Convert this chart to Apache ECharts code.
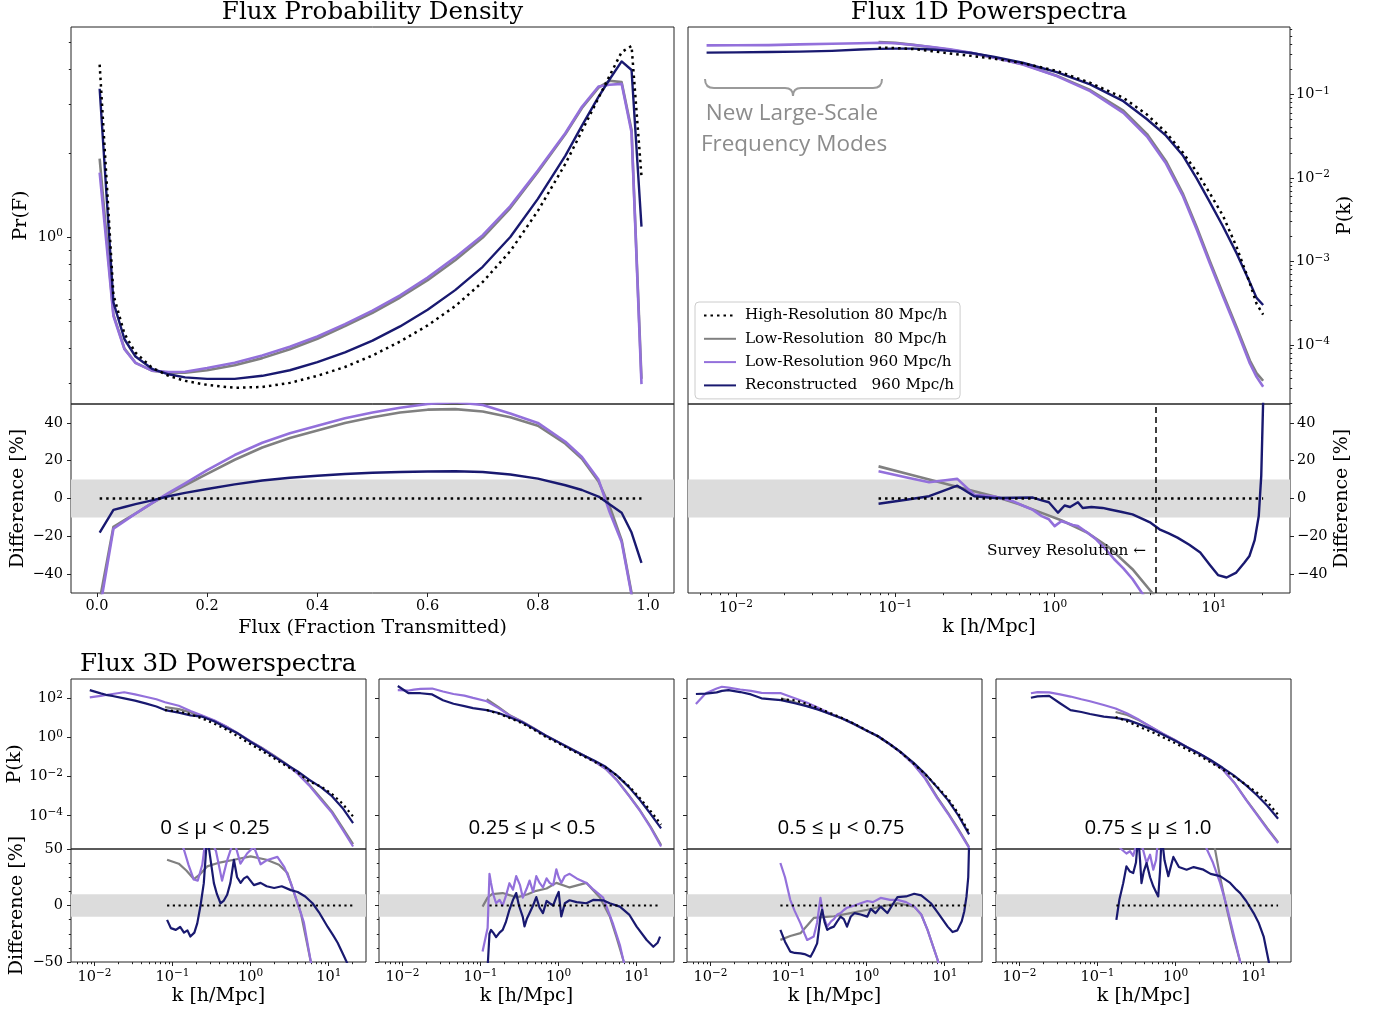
<!DOCTYPE html>
<html><head><meta charset="utf-8">
<script src="https://cdn.jsdelivr.net/npm/echarts@6/dist/echarts.min.js"></script>
<style>html,body{margin:0;padding:0;background:#fff}#c{width:1385px;height:1013px}</style>
</head><body><div id="c"></div>
<script>
// ---------------- DATA ----------------
const N_HIGH = 'High-Resolution 80 Mpc/h';
const N_LOW80 = 'Low-Resolution  80 Mpc/h';
const N_LOW960 = 'Low-Resolution 960 Mpc/h';
const N_RECON = 'Reconstructed   960 Mpc/h';

// Flux probability density
const fluxF = [0.005, 0.03, 0.05, 0.07, 0.10, 0.13, 0.16, 0.20, 0.25, 0.30, 0.35, 0.40, 0.45, 0.50, 0.55, 0.60, 0.65, 0.70, 0.75, 0.80, 0.85, 0.88, 0.91, 0.93, 0.952, 0.97, 0.988];
const pdfHigh80 = [4.15, 0.62, 0.45, 0.385, 0.34, 0.318, 0.305, 0.295, 0.288, 0.29, 0.30, 0.318, 0.342, 0.376, 0.422, 0.482, 0.565, 0.69, 0.89, 1.24, 1.83, 2.40, 3.15, 3.78, 4.60, 4.84, 1.65];
const pdfLow80 = [1.91, 0.527, 0.398, 0.354, 0.332, 0.326, 0.326, 0.333, 0.347, 0.368, 0.396, 0.432, 0.479, 0.535, 0.607, 0.700, 0.825, 0.995, 1.27, 1.71, 2.34, 2.90, 3.43, 3.63, 3.59, 2.42, 0.31];
const pdfLow960 = [1.70, 0.521, 0.396, 0.354, 0.332, 0.328, 0.329, 0.339, 0.354, 0.376, 0.404, 0.440, 0.487, 0.545, 0.618, 0.715, 0.845, 1.015, 1.29, 1.73, 2.36, 2.93, 3.465, 3.515, 3.54, 2.37, 0.297];
const pdfRecon = [3.40, 0.583, 0.43, 0.373, 0.337, 0.322, 0.314, 0.31, 0.31, 0.318, 0.333, 0.356, 0.386, 0.425, 0.478, 0.549, 0.645, 0.782, 1.0, 1.37, 1.958, 2.508, 3.18, 3.67, 4.26, 3.97, 1.09];
const pdfDiffHigh80 = [0, 0, 0, 0, 0, 0, 0, 0, 0, 0, 0, 0, 0, 0, 0, 0, 0, 0, 0, 0, 0, 0, 0, 0, 0, 0, 0];
const pdfDiffLow80 = [-54, -15, -11.5, -8, -2.5, 2.5, 7, 13, 20.5, 27, 32, 36, 40, 43, 45.5, 47, 47.3, 46, 43, 38.5, 29, 21, 9, -4, -22, -50, -81];
const pdfDiffLow960 = [-59, -16, -12, -8, -2.5, 3, 8, 15, 23, 29.5, 34.5, 38.5, 42.5, 45.5, 48, 50, 51, 49.5, 45, 40, 30, 22, 10, -7, -23, -51, -82];
const pdfDiffRecon = [-18, -6, -4.5, -3, -1, 1.2, 3, 5, 7.5, 9.5, 11, 12, 13, 13.6, 14, 14.3, 14.4, 14, 12.7, 10.5, 7, 4.5, 1, -3, -7.5, -18, -34];
const pdfXTicks = [0, 0.2, 0.4, 0.6, 0.8, 1.0];
const diffTicks = [-40, -20, 0, 20, 40];

// Flux 1D power spectra
const k1D = [0.00654, 0.01, 0.016, 0.025, 0.04, 0.06, 0.0785, 0.1, 0.13, 0.17, 0.22, 0.3, 0.42, 0.63, 1.03, 1.67, 2.7, 3.8, 5.0, 6.4, 7.8, 9.4, 11.4, 13.9, 16.8, 18.5, 20.35];
const p1dHigh80 = [null, null, null, null, null, null, 0.364, 0.36, 0.35, 0.33, 0.31, 0.29, 0.268, 0.237, 0.192, 0.138, 0.0913, 0.0575, 0.035, 0.02, 0.0118, 0.00658, 0.00352, 0.00147, 5.47e-4, 3.12e-4, 2.3e-4];
const p1dLow80 = [null, null, null, null, null, null, 0.425, 0.415, 0.393, 0.368, 0.342, 0.313, 0.276, 0.231, 0.168, 0.113, 0.064, 0.0335, 0.0159, 0.0064, 0.00256, 1.02e-3, 4.07e-4, 1.62e-4, 6.5e-5, 4.6e-5, 3.72e-5];
const p1dLow960 = [0.387, 0.388, 0.39, 0.398, 0.405, 0.41, 0.416, 0.41, 0.392, 0.37, 0.347, 0.315, 0.276, 0.229, 0.166, 0.1096, 0.0603, 0.0313, 0.01486, 0.00601, 0.00239, 9.54e-4, 3.8e-4, 1.51e-4, 6.0e-5, 4.15e-5, 3.15e-5];
const p1dRecon = [0.317, 0.319, 0.322, 0.326, 0.333, 0.345, 0.352, 0.354, 0.354, 0.345, 0.333, 0.315, 0.282, 0.24, 0.185, 0.132, 0.0831, 0.0505, 0.0321, 0.0184, 0.0098, 0.00517, 0.00262, 0.00124, 5.6e-4, 3.66e-4, 3.01e-4];
const k1DZero = [0.0785, 20.35];
const d1DHigh80 = [0, 0];
const k1DDiffLow80 = [0.0785, 0.12, 0.163, 0.25, 0.42, 0.6, 0.83, 1.1, 1.6, 2.2, 3.08, 4.1, 5.0];
const d1DLow80 = [17, 13, 10, 6, 1, -3, -7.6, -11.5, -18, -26, -37.4, -50, -62];
const k1DDiffLow960 = [0.0785, 0.12, 0.163, 0.2, 0.245, 0.313, 0.42, 0.55, 0.64, 0.73, 0.83, 0.92, 1.0, 1.1, 1.155, 1.3, 1.4, 1.6, 1.82, 2.1, 2.36, 2.7, 3.08, 3.6, 4.5];
const d1DLow960 = [14.4, 11, 8.6, 9.5, 10.4, 2, 1, -1.5, -4, -6, -9.3, -11, -14.6, -12, -12.5, -14, -14.6, -18, -21.6, -27, -32, -37, -42.6, -51, -65];
const k1DDiffRecon = [0.0785, 0.12, 0.163, 0.2, 0.245, 0.313, 0.42, 0.55, 0.73, 0.83, 0.92, 1.05, 1.155, 1.25, 1.4, 1.5, 1.7, 2.0, 2.22, 2.6, 3.08, 3.5, 4.0, 4.55, 5.2, 5.9, 7.0, 8.2, 9.4, 10.6, 12, 13.8, 15.5, 16.7, 18, 19.1, 19.8, 20.4];
const d1DRecon = [-2.8, -0.5, 1.2, 4, 6.8, 1.2, 0.3, 0.4, 0.5, -1, -2, -7.5, -3.7, -4.5, -2, -5, -4.5, -5, -5.8, -7, -8.4, -10.5, -12.8, -16.3, -18.5, -20.7, -24.5, -28.6, -35, -40.5, -41.8, -39.2, -34, -30.4, -22, -9.3, 12, 55];
const surveyResolutionK = 4.3;
const kTickLabels = [0.01, 0.1, 1, 10];
const p1dYTicks = [1e-4, 1e-3, 1e-2, 1e-1];

// Flux 3D power spectra (4 mu bins)
const muLabels = ['0 \u2264 \u03bc < 0.25', '0.25 \u2264 \u03bc < 0.5', '0.5 \u2264 \u03bc < 0.75', '0.75 \u2264 \u03bc \u2264 1.0'];
const k3D = [0.0065, 0.0087, 0.012, 0.014, 0.017, 0.024, 0.033, 0.045, 0.062, 0.08, 0.12, 0.17, 0.24, 0.34, 0.48, 0.68, 1.0, 1.4, 2.0, 2.8, 4.0, 5.6, 8.0, 11, 15, 20.5];
const p3dRecon_1 = [null, 263, 178, 151, 132, 100, 75.9, 55.0, 38.0, 25.1, 18.6, 13.5, 11.5, 6.76, 3.24, 1.62, 0.589, 0.263, 0.105, 0.0447, 0.0186, 0.00692, 0.00282, 0.001, 2.51e-4, 4.17e-5];
const p3dLow960_1 = [null, 112, 132, 148, 166, 204, 158, 120, 89.1, 63.1, 41.7, 22.4, 13.2, 7.59, 3.8, 1.66, 0.631, 0.282, 0.112, 0.0447, 0.0141, 0.00355, 6.31e-4, 1.41e-4, 2.0e-5, 2.69e-6];
const p3dLow80_1 = [null, null, null, null, null, null, null, null, null, 35.5, 28.2, 19.1, 12.0, 7.08, 3.72, 1.66, 0.631, 0.288, 0.117, 0.0468, 0.0151, 0.00398, 7.59e-4, 1.66e-4, 2.51e-5, 3.55e-6];
const p3dHigh80_1 = [null, null, null, null, null, null, null, null, null, 25.1, 21.4, 15.1, 9.33, 5.13, 2.63, 1.17, 0.447, 0.204, 0.0851, 0.0363, 0.0158, 0.00562, 0.00309, 0.00129, 4.17e-4, 9.12e-5];
const p3dRecon_2 = [null, 427, 182, 182, 182, 158, 79.4, 52.5, 39.8, 31.6, 25.1, 17.8, 10.5, 6.03, 2.82, 1.26, 0.562, 0.275, 0.132, 0.0692, 0.0316, 0.0112, 0.00282, 6.31e-4, 1.26e-4, 2.24e-5];
const p3dLow960_2 = [null, 263, 251, 280, 302, 316, 224, 166, 138, 105, 70.8, 31.6, 12.6, 6.31, 2.88, 1.26, 0.562, 0.275, 0.132, 0.0631, 0.0251, 0.00631, 0.001, 1.78e-4, 2.51e-5, 2.69e-6];
const p3dLow80_2 = [null, null, null, null, null, null, null, null, null, null, 90, 35.5, 13.2, 6.61, 2.95, 1.26, 0.575, 0.282, 0.135, 0.0631, 0.0251, 0.0066, 0.00105, 1.91e-4, 2.82e-5, 3.16e-6];
const p3dHigh80_2 = [null, null, null, null, null, null, null, null, null, null, 25.1, 16.6, 9.5, 5.3, 2.5, 1.08, 0.5, 0.245, 0.118, 0.0603, 0.029, 0.0112, 0.00316, 7.94e-4, 1.78e-4, 3.55e-5];
const p3dRecon_3 = [166, 174, 200, 240, 263, 209, 158, 100, 89.1, 81.3, 56.2, 39.8, 26.3, 15.8, 9.55, 5.01, 2.24, 1.15, 0.447, 0.166, 0.0501, 0.0141, 0.00282, 6.31e-4, 1.0e-4, 1.12e-5];
const p3dLow960_3 = [51.3, 182, 316, 389, 355, 282, 240, 191, 186, 182, 100, 60.3, 33.1, 16.6, 9.55, 5.01, 2.24, 1.15, 0.437, 0.158, 0.0417, 0.00794, 7.94e-4, 1.26e-4, 1.78e-5, 2.24e-6];
const p3dLow80_3 = [null, null, null, null, null, null, null, null, null, 100, 63.1, 41.7, 28.2, 15.8, 9.33, 4.9, 2.19, 1.12, 0.437, 0.162, 0.0437, 0.00891, 8.91e-4, 1.41e-4, 2.0e-5, 2.51e-6];
const p3dHigh80_3 = [null, null, null, null, null, null, null, null, null, 89.1, 79.4, 52.5, 31.6, 17.8, 10, 5.25, 2.29, 1.15, 0.437, 0.158, 0.0457, 0.0135, 0.00302, 7.59e-4, 1.26e-4, 1.41e-5];
const p3dRecon_4 = [null, null, null, 107, 126, 132, 56, 25.1, 20, 15.8, 11.5, 10, 7.94, 4.79, 2.75, 1.41, 0.661, 0.316, 0.151, 0.0708, 0.0282, 0.0112, 0.00355, 0.00112, 3.16e-4, 7.08e-5];
const p3dLow960_4 = [null, null, null, 182, 209, 200, 158, 123, 89.1, 70.8, 45.7, 30.2, 16.6, 7.94, 3.55, 1.58, 0.708, 0.316, 0.151, 0.0661, 0.024, 0.00501, 6.31e-4, 1.12e-4, 2.0e-5, 3.98e-6];
const p3dLow80_4 = [null, null, null, null, null, null, null, null, null, null, null, 20, 14.1, 7.59, 3.47, 1.55, 0.692, 0.316, 0.148, 0.0631, 0.0234, 0.00501, 6.61e-4, 1.2e-4, 2.24e-5, 4.47e-6];
const p3dHigh80_4 = [null, null, null, null, null, null, null, null, null, null, null, 11.2, 6.61, 3.55, 2.0, 1.05, 0.501, 0.24, 0.12, 0.0537, 0.0229, 0.01, 0.0038, 0.00151, 5.01e-4, 1.12e-4];
const p3dYTicks = [1e-4, 1e-2, 1, 100];

// 3D differences [%]
const k3Zero_1 = [0.085, 20.3];
const d3Zero_1 = [0, 0];
const k3Low80_1 = [0.085, 0.12, 0.15, 0.187, 0.22, 0.277, 0.4, 0.61, 1.0, 1.6, 2.3, 2.96, 3.6, 4.39, 5.9, 7.0];
const d3Low80_1 = [40.5, 37, 31, 23.4, 27, 34.6, 38, 40.5, 43.5, 40.5, 36, 28.7, 11, -6.7, -50, -65];
const k3Low960_1 = [0.085, 0.11, 0.139, 0.16, 0.187, 0.21, 0.24, 0.26, 0.3, 0.36, 0.43, 0.5, 0.61, 0.74, 0.9, 1.1, 1.34, 1.6, 2.2, 2.7, 3.27, 4.0, 4.8, 5.9, 7.0];
const d3Low960_1 = [75, 62, 50, 36, 23, 22, 36, 55, 60, 48, 22, 40, 58, 37, 46, 52, 36.5, 40, 43, 34, 20, 2, -15, -50, -65];
const k3Recon_1 = [0.085, 0.095, 0.11, 0.125, 0.14, 0.155, 0.169, 0.19, 0.207, 0.228, 0.251, 0.277, 0.3, 0.338, 0.37, 0.411, 0.45, 0.5, 0.55, 0.61, 0.67, 0.744, 0.82, 0.906, 1.1, 1.34, 1.6, 2.0, 2.5, 3.27, 4.0, 5.0, 6.2, 7.5, 9.7, 11.3, 13, 15, 17.5];
const d3Recon_1 = [-12.7, -20, -21.6, -19, -24, -22, -27.5, -24, -15.8, 0, 19.8, 62, 45, 19.8, 10, 2, 4, 9.5, 20, 40.5, 25, 20, 24, 25.6, 18, 20, 17, 15.5, 17, 13.6, 12, 8, 2, -6, -19, -26, -33, -42, -52];

const k3Zero_2 = [0.13, 19.9];
const d3Zero_2 = [0, 0];
const k3Low80_2 = [0.106, 0.123, 0.14, 0.192, 0.24, 0.286, 0.4, 0.517, 0.7, 0.934, 1.38, 2.27, 3.37, 4.52, 5.5, 6.71, 7.5];
const d3Low80_2 = [-1, 7, 10, 11, 9, 7, 10, 13, 15, 20, 16, 20, 7, -9.7, -28, -48, -60];
const k3Low960_2 = [0.106, 0.123, 0.13, 0.136, 0.145, 0.158, 0.175, 0.192, 0.21, 0.234, 0.26, 0.286, 0.32, 0.347, 0.39, 0.424, 0.47, 0.517, 0.57, 0.629, 0.7, 0.766, 0.85, 0.934, 1.0, 1.08, 1.2, 1.38, 1.7, 2.27, 2.8, 3.71, 4.99, 6.08, 6.71, 7.5];
const d3Low960_2 = [-40.8, -20, 28, 20, 10, 2, 5, 0, 8, 19.7, 14, 26, 18, 7, 15, 22, 12, 26, 20, 16, 24, 20, 18, 32, 25, 20, 26, 28, 24, 20, 14, 7, -16.6, -35, -48, -60];
const k3Recon_2 = [0.123, 0.13, 0.136, 0.145, 0.158, 0.175, 0.192, 0.21, 0.234, 0.26, 0.286, 0.31, 0.347, 0.365, 0.39, 0.424, 0.47, 0.517, 0.57, 0.629, 0.7, 0.766, 0.85, 0.934, 1.0, 1.08, 1.2, 1.38, 1.7, 2.27, 2.8, 3.71, 4.5, 6.08, 8.0, 9.97, 13.4, 16.3, 18.5, 19.9];
const d3Recon_2 = [-55, -25, -21.6, -24, -28, -24, -21.6, -15, -3.8, 5, 11, 0, -10, -18.5, -12, -6.7, 0, 7.4, -2, -6.7, 4, 2, 0, 7.4, 12, -9.7, 2, 4.6, 3, 2, 5, 4.6, 2, -1, -8, -18.7, -30.5, -36.5, -33, -27.5];

const k3Zero_3 = [0.0785, 20.6];
const d3Zero_3 = [0, 0];
const k3Low80_3 = [0.0785, 0.105, 0.142, 0.21, 0.3, 0.38, 0.623, 1.02, 1.51, 2.48, 4.06, 5.0, 6.02, 7.0, 8.1, 9.0];
const d3Low80_3 = [-30.4, -27, -24.5, -11, -10, -9.5, -6.7, -3.8, -1, 2, -1, -8, -21.6, -35, -48, -60];
const k3Low960_3 = [0.0785, 0.09, 0.105, 0.12, 0.142, 0.16, 0.173, 0.191, 0.21, 0.232, 0.256, 0.28, 0.313, 0.35, 0.38, 0.42, 0.463, 0.51, 0.56, 0.623, 0.7, 0.837, 1.02, 1.2, 1.51, 2.0, 2.48, 3.2, 4.06, 5.0, 6.02, 7.0, 8.1, 9.0];
const d3Low960_3 = [37.6, 25, 5, -5, -15.8, -25, -30.5, -29, -27.5, -15, 6.7, -10, -18.6, -14, -12, -8, -6.7, -4, -2, -1, 0, 2, 4, 3, 6.7, 5, 5, 3, -1, -8, -21.6, -35, -48, -60];
const k3Recon_3 = [0.0785, 0.09, 0.105, 0.12, 0.142, 0.16, 0.173, 0.191, 0.21, 0.232, 0.256, 0.269, 0.29, 0.313, 0.34, 0.38, 0.42, 0.463, 0.51, 0.56, 0.623, 0.7, 0.837, 1.02, 1.13, 1.3, 1.51, 1.84, 2.2, 2.48, 3.2, 4.06, 5.0, 6.65, 8.1, 10.9, 12.6, 14.5, 16.5, 17.8, 19.0, 20.0, 20.6];
const d3Recon_3 = [-21.6, -32, -40.8, -42, -42.3, -43, -44, -45.3, -40, -33.5, -10, -3.8, -15, -21.6, -20, -18.7, -14, -9.8, -12, -18.7, -10, -6.7, -8, -9.8, -3, -6.7, -1, -6.7, 2, 7.4, 8, 10.4, 9, 2, -6, -18.7, -23.5, -22, -14, -5, 8, 25, 60];

const k3Zero_4 = [0.174, 20.5];
const d3Zero_4 = [0, 0];
const k3Low80_4 = [0.174, 0.5, 1.0, 2.0, 3.0, 3.71, 4.52, 5.5, 6.71, 8.0];
const d3Low80_4 = [70, 80, 85, 80, 60, 25, -3, -28, -50, -70];
const k3Low960_4 = [0.174, 0.2, 0.234, 0.26, 0.286, 0.331, 0.38, 0.424, 0.47, 0.517, 0.56, 0.598, 0.66, 0.8, 1.0, 1.4, 2.0, 2.5, 3.0, 3.71, 4.52, 5.5, 6.71, 8.0];
const d3Low960_4 = [55, 50, 46, 48, 44, 60, 50, 37.6, 45, 31.7, 40, 60, 70, 80, 75, 80, 70, 50, 38, 20, -1, -25, -50, -70];
const k3Recon_4 = [0.174, 0.19, 0.213, 0.234, 0.26, 0.286, 0.31, 0.331, 0.35, 0.365, 0.39, 0.424, 0.47, 0.517, 0.56, 0.598, 0.63, 0.661, 0.72, 0.805, 0.87, 0.934, 1.1, 1.38, 1.7, 2.27, 2.8, 3.71, 4.99, 6.0, 6.71, 8.0, 9.97, 11.5, 13.4, 15.6, 17];
const d3Recon_4 = [-12.7, 5, 19.8, 34.6, 30, 28.7, 38, 62, 40, 19.8, 30, 37.6, 25, 17, 12, 8, 30, 62, 40, 26, 35, 43, 34, 31.7, 34, 31.7, 28, 26, 20, 14, 11, 4, -6.7, -15, -27.5, -50, -65];

// ---------------- BUILD ----------------
const FONT = '"DejaVu Serif", serif';
const SANS = '"Open Sans", sans-serif';
const TXT = '#000';
const STY = {
  high: {color: '#000000', width: 2.5, z: 5},
  low80: {color: '#808080', width: 2.6, z: 2},
  low960: {color: '#9370db', width: 2.6, z: 3},
  recon: {color: '#191970', width: 2.4, z: 4}
};

function pairs(xs, ys) { const out = []; for (let i = 0; i < xs.length; i++) if (ys[i] != null) out.push([xs[i], ys[i]]); return out; }
function minorLog(min, max) {
  const out = [];
  for (let e = Math.floor(Math.log10(min)); e <= Math.ceil(Math.log10(max)); e++) {
    for (let m = 2; m <= 9; m++) { const v = m * Math.pow(10, e); if (v > min && v < max) out.push(v); }
  }
  return out;
}
function supLabel(v) { const e = Math.round(Math.log10(v)); return '{b|10}{s|' + (e < 0 ? '\u2212' + (-e) : e) + '}'; }
const supRich = {
  b: {fontFamily: FONT, fontSize: 14.5, color: TXT, lineHeight: 18},
  s: {fontFamily: FONT, fontSize: 10.5, color: TXT, lineHeight: 8, verticalAlign: 'top'}
};
function minusFmt(v) { return v < 0 ? '\u2212' + Math.abs(v) : String(v); }
const nameTS = {fontFamily: FONT, fontSize: 19, color: TXT};
const tickLS = {color: '#222', width: 1};
const LBL = {fontFamily: FONT, fontSize: 14.5, color: TXT};

const grid = [], xAxis = [], yAxis = [], series = [];
function G(left, top, width, height) {
  grid.push({left, top, width, height, show: true, borderColor: '#222', borderWidth: 1, backgroundColor: 'transparent', containLabel: false, outerBoundsMode: 'none'});
  return grid.length - 1;
}
function A(list, o) {
  list.push(Object.assign({splitLine: {show: false}, axisLine: {show: false, onZero: false}, axisPointer: {show: false}, nameMoveOverlap: false, silent: true}, o));
  return list.length - 1;
}
function logAx(gi, pos, min, max, ticks, labels, margin, extra) {
  return Object.assign({type: 'log', logBase: 10, gridIndex: gi, position: pos, min, max,
    axisTick: ticks ? {show: true, length: 4, customValues: ticks, lineStyle: tickLS} : {show: false},
    axisLabel: labels ? {show: true, customValues: ticks, formatter: supLabel, rich: supRich, margin: margin} : {show: false}
  }, extra || {});
}
function minorAx(gi, pos, min, max) {
  return {type: 'log', logBase: 10, gridIndex: gi, position: pos, min, max, offset: 0,
    axisTick: {show: true, length: 2.2, customValues: minorLog(min, max), lineStyle: tickLS}, axisLabel: {show: false}};
}
function L(kind, name, xi, yi, data, w) {
  const s = STY[kind];
  const width = w || s.width;
  const dash = kind === 'high' ? [width, width * 1.6] : 'solid';
  return {type: 'line', name, xAxisIndex: xi, yAxisIndex: yi, data, symbol: 'none', showSymbol: false, silent: true,
    z: s.z, clip: true, animation: false, emphasis: {disabled: true},
    lineStyle: {color: s.color, width, type: dash, cap: 'butt', join: 'round'}, itemStyle: {color: s.color}};
}
function band(xi, yi, extra) {
  return Object.assign({type: 'line', name: '_band', xAxisIndex: xi, yAxisIndex: yi, data: [], symbol: 'none', silent: true, z: 1, animation: false,
    markArea: {silent: true, itemStyle: {color: '#dcdcdc', opacity: 1}, label: {show: false}, data: [[{yAxis: -10}, {yAxis: 10}]]}}, extra || {});
}

// ---- Top-left: Flux probability density ----
const gTLu = G(71, 27, 603, 377), gTLd = G(71, 404, 603, 189);
const xTLu = A(xAxis, {type: 'value', gridIndex: gTLu, position: 'bottom', min: -0.047, max: 1.047, axisTick: {show: false}, axisLabel: {show: false}});
const yTLu = A(yAxis, logAx(gTLu, 'left', 0.252, 5.66, [1], true, 8, {name: 'Pr(F)', nameLocation: 'middle', nameGap: 40, nameRotate: 90, nameTextStyle: nameTS}));
A(yAxis, minorAx(gTLu, 'left', 0.252, 5.66));
const xTLd = A(xAxis, {type: 'value', gridIndex: gTLd, position: 'bottom', min: -0.047, max: 1.047,
  axisTick: {show: true, length: 4, customValues: pdfXTicks, lineStyle: tickLS},
  axisLabel: Object.assign({show: true, customValues: pdfXTicks, formatter: v => v.toFixed(1), margin: 6}, LBL),
  name: 'Flux (Fraction Transmitted)', nameLocation: 'middle', nameGap: 26, nameTextStyle: nameTS});
const yTLd = A(yAxis, {type: 'value', gridIndex: gTLd, position: 'left', min: -50, max: 50,
  axisTick: {show: true, length: 4, customValues: diffTicks, lineStyle: tickLS},
  axisLabel: Object.assign({show: true, customValues: diffTicks, formatter: minusFmt, margin: 8}, LBL),
  name: 'Difference [%]', nameLocation: 'middle', nameGap: 43, nameRotate: 90, nameTextStyle: nameTS});

series.push(L('low80', N_LOW80, xTLu, yTLu, pairs(fluxF, pdfLow80)));
series.push(L('low960', N_LOW960, xTLu, yTLu, pairs(fluxF, pdfLow960)));
series.push(L('recon', N_RECON, xTLu, yTLu, pairs(fluxF, pdfRecon)));
series.push(L('high', N_HIGH, xTLu, yTLu, pairs(fluxF, pdfHigh80)));
series.push(band(xTLd, yTLd));
series.push(L('low80', N_LOW80, xTLd, yTLd, pairs(fluxF, pdfDiffLow80)));
series.push(L('low960', N_LOW960, xTLd, yTLd, pairs(fluxF, pdfDiffLow960)));
series.push(L('recon', N_RECON, xTLd, yTLd, pairs(fluxF, pdfDiffRecon)));
series.push(L('high', N_HIGH, xTLd, yTLd, pairs(fluxF, pdfDiffHigh80)));

// ---- Top-right: Flux 1D power spectra ----
const KMIN = 0.005, KMAX = 30;
const gTRu = G(688, 27, 602, 377), gTRd = G(688, 404, 602, 189);
const xTRu = A(xAxis, logAx(gTRu, 'bottom', KMIN, KMAX, null, false));
const yTRu = A(yAxis, logAx(gTRu, 'right', 1.96e-5, 0.643, p1dYTicks, true, 6, {name: 'P(k)', nameLocation: 'middle', nameGap: 46, nameRotate: 90, nameTextStyle: nameTS}));
A(yAxis, minorAx(gTRu, 'right', 1.96e-5, 0.643));
const xTRd = A(xAxis, logAx(gTRd, 'bottom', KMIN, KMAX, kTickLabels, true, 6, {name: 'k [h/Mpc]', nameLocation: 'middle', nameGap: 25, nameTextStyle: nameTS}));
A(xAxis, minorAx(gTRd, 'bottom', KMIN, KMAX));
const yTRd = A(yAxis, {type: 'value', gridIndex: gTRd, position: 'right', min: -50, max: 50,
  axisTick: {show: true, length: 4, customValues: diffTicks, lineStyle: tickLS},
  axisLabel: Object.assign({show: true, customValues: diffTicks, formatter: minusFmt, margin: 7}, LBL),
  name: 'Difference [%]', nameLocation: 'middle', nameGap: 43, nameRotate: 90, nameTextStyle: nameTS});

series.push(L('low80', N_LOW80, xTRu, yTRu, pairs(k1D, p1dLow80)));
series.push(L('low960', N_LOW960, xTRu, yTRu, pairs(k1D, p1dLow960)));
series.push(L('recon', N_RECON, xTRu, yTRu, pairs(k1D, p1dRecon)));
series.push(L('high', N_HIGH, xTRu, yTRu, pairs(k1D, p1dHigh80)));
series.push(band(xTRd, yTRd, {markLine: {silent: true, symbol: ['none', 'none'], label: {show: false},
  lineStyle: {color: '#000', type: [6, 4], width: 1.5}, data: [{xAxis: surveyResolutionK}]}}));
series.push(L('low80', N_LOW80, xTRd, yTRd, pairs(k1DDiffLow80, d1DLow80)));
series.push(L('low960', N_LOW960, xTRd, yTRd, pairs(k1DDiffLow960, d1DLow960)));
series.push(L('recon', N_RECON, xTRd, yTRd, pairs(k1DDiffRecon, d1DRecon)));
series.push(L('high', N_HIGH, xTRd, yTRd, pairs(k1DZero, d1DHigh80)));

// ---- Bottom: Flux 3D power spectra ----
const panels = [
  {left: 71, recon: p3dRecon_1, low960: p3dLow960_1, low80: p3dLow80_1, high: p3dHigh80_1,
   dz: [k3Zero_1, d3Zero_1], d80: [k3Low80_1, d3Low80_1], d960: [k3Low960_1, d3Low960_1], drec: [k3Recon_1, d3Recon_1]},
  {left: 379, recon: p3dRecon_2, low960: p3dLow960_2, low80: p3dLow80_2, high: p3dHigh80_2,
   dz: [k3Zero_2, d3Zero_2], d80: [k3Low80_2, d3Low80_2], d960: [k3Low960_2, d3Low960_2], drec: [k3Recon_2, d3Recon_2]},
  {left: 687, recon: p3dRecon_3, low960: p3dLow960_3, low80: p3dLow80_3, high: p3dHigh80_3,
   dz: [k3Zero_3, d3Zero_3], d80: [k3Low80_3, d3Low80_3], d960: [k3Low960_3, d3Low960_3], drec: [k3Recon_3, d3Recon_3]},
  {left: 996, recon: p3dRecon_4, low960: p3dLow960_4, low80: p3dLow80_4, high: p3dHigh80_4,
   dz: [k3Zero_4, d3Zero_4], d80: [k3Low80_4, d3Low80_4], d960: [k3Low960_4, d3Low960_4], drec: [k3Recon_4, d3Recon_4]}
];
const muX = [215, 532, 841, 1148];
panels.forEach((p, i) => {
  const first = i === 0;
  const gu = G(p.left, 679, 295, 170), gd = G(p.left, 849, 295, 113);
  const xu = A(xAxis, logAx(gu, 'bottom', KMIN, KMAX, null, false));
  const yu = A(yAxis, logAx(gu, 'left', 2e-6, 970, p3dYTicks, first, 8,
    first ? {name: 'P(k)', nameLocation: 'middle', nameGap: 46, nameRotate: 90, nameTextStyle: nameTS} : {}));
  const xd = A(xAxis, logAx(gd, 'bottom', KMIN, KMAX, kTickLabels, true, 6, {name: 'k [h/Mpc]', nameLocation: 'middle', nameGap: 25, nameTextStyle: nameTS}));
  A(xAxis, minorAx(gd, 'bottom', KMIN, KMAX));
  const yd = A(yAxis, {type: 'value', gridIndex: gd, position: 'left', min: -50, max: 50, interval: 50,
    axisTick: {show: true, length: 4, lineStyle: tickLS},
    minorTick: {show: true, splitNumber: 4, length: 2.2, lineStyle: tickLS},
    axisLabel: first ? Object.assign({show: true, formatter: minusFmt, margin: 8}, LBL) : {show: false},
    name: first ? 'Difference [%]' : '', nameLocation: 'middle', nameGap: 44, nameRotate: 90, nameTextStyle: nameTS});
  series.push(L('low80', N_LOW80, xu, yu, pairs(k3D, p.low80), 2.2));
  series.push(L('low960', N_LOW960, xu, yu, pairs(k3D, p.low960), 2.2));
  series.push(L('recon', N_RECON, xu, yu, pairs(k3D, p.recon), 2.2));
  series.push(L('high', N_HIGH, xu, yu, pairs(k3D, p.high), 2.2));
  series.push(band(xd, yd));
  series.push(L('low80', N_LOW80, xd, yd, pairs(p.d80[0], p.d80[1]), 2.2));
  series.push(L('low960', N_LOW960, xd, yd, pairs(p.d960[0], p.d960[1]), 2.2));
  series.push(L('recon', N_RECON, xd, yd, pairs(p.drec[0], p.drec[1]), 2.2));
  series.push(L('high', N_HIGH, xd, yd, pairs(p.dz[0], p.dz[1]), 2.2));
});

function T(text, x, y, font, color, align) {
  return {type: 'text', x, y, z: 50, silent: true,
    style: {text, font, fill: color || TXT, textAlign: align || 'center', align: align || 'center', textVerticalAlign: 'middle', verticalAlign: 'middle'}};
}
const BR = '#9a9a9a';
function seg(x1, y1, x2, y2) { return {type: 'line', z: 50, silent: true, shape: {x1, y1, x2, y2}, style: {stroke: BR, lineWidth: 2}}; }
function curve(x1, y1, cx, cy, x2, y2) { return {type: 'bezierCurve', z: 50, silent: true, shape: {x1, y1, cpx1: cx, cpy1: cy, x2, y2}, style: {stroke: BR, lineWidth: 2, fill: null}}; }
const graphic = [
  T('Flux Probability Density', 372.5, 13, 'normal 24.6px ' + FONT),
  T('Flux 1D Powerspectra', 989, 13, 'normal 24.6px ' + FONT),
  T('Flux 3D Powerspectra', 80, 665, 'normal 24.6px ' + FONT, TXT, 'left'),
  T('New Large-Scale', 792, 114, 'normal 22.5px ' + SANS, '#8c8c8c'),
  T('Frequency Modes', 794, 145, 'normal 22.5px ' + SANS, '#8c8c8c'),
  curve(705, 79, 705, 88, 714, 88), seg(714, 88, 785, 88), curve(785, 88, 793, 88, 793, 96),
  curve(793, 96, 793, 88, 801, 88), seg(801, 88, 873, 88), curve(873, 88, 882, 88, 882, 79),
  T('Survey Resolution \u2190', 1146, 551, 'normal 15.3px ' + FONT, TXT, 'right')
];
muLabels.forEach((t, i) => graphic.push(T(t, muX[i], 828, 'normal 20.5px ' + SANS)));

const chart = echarts.init(document.getElementById('c'), null, {renderer: 'canvas'});
chart.setOption({
  animation: false,
  backgroundColor: '#ffffff',
  textStyle: {fontFamily: FONT},
  grid, xAxis, yAxis, series, graphic,
  tooltip: {show: false},
  legend: {show: true, data: [N_HIGH, N_LOW80, N_LOW960, N_RECON], orient: 'vertical', left: 695, top: 302,
    itemWidth: 32, itemHeight: 14, itemGap: 8.3, padding: [6, 6, 6, 8], backgroundColor: '#ffffff',
    borderColor: '#cccccc', borderWidth: 1, borderRadius: 4, selectedMode: false, z: 20,
    itemStyle: {opacity: 0},
    textStyle: {fontFamily: FONT, fontSize: 15.2, color: TXT, padding: [0, 0, 0, 4]}}
});
</script></body></html>
